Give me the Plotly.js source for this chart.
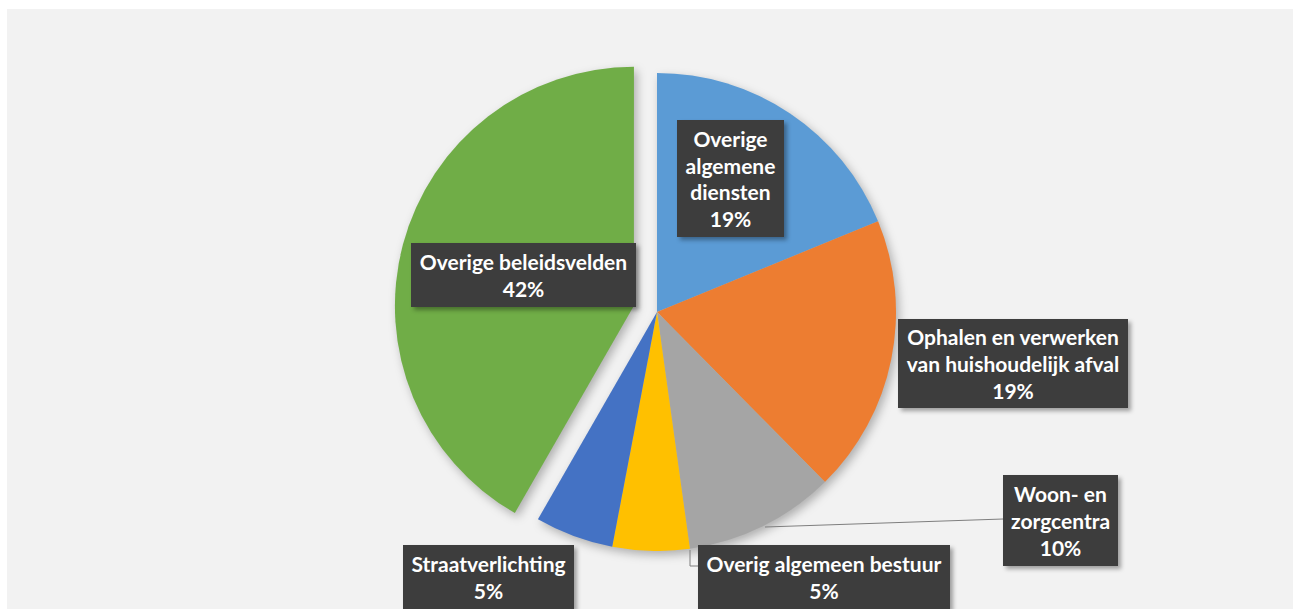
<!DOCTYPE html>
<html>
<head>
<meta charset="utf-8">
<script src="https://cdn.plot.ly/plotly-3.0.1.min.js"></script>
<style>
  html, body { margin: 0; padding: 0; background: #ffffff; width: 1293px; height: 609px; overflow: hidden; }
  #chart { position: absolute; left: 7px; top: 9px; width: 1286px; height: 600px; }
  #chart .pielayer { filter: drop-shadow(3px 4px 5px rgba(0,0,0,0.28)); }
  #chart .annotation rect.bg { filter: drop-shadow(3px 3px 2px rgba(0,0,0,0.35)); }
</style>
</head>
<body>
<div id="chart"></div>
<script>
// ---- data ----
var categories = [
  "Overige algemene diensten",
  "Ophalen en verwerken van huishoudelijk afval",
  "Woon- en zorgcentra",
  "Overig algemeen bestuur",
  "Straatverlichting",
  "Overige beleidsvelden"
];
var shares = [18.8, 18.8, 10.2, 5.2, 5.3, 41.7];
// label text with the line breaks used in the chart
var labelLines = [
  ["Overige", "algemene", "diensten"],
  ["Ophalen en verwerken", "van huishoudelijk afval"],
  ["Woon- en", "zorgcentra"],
  ["Overig algemeen bestuur"],
  ["Straatverlichting"],
  ["Overige beleidsvelden"]
];
var sliceColors = ["#5B9BD5", "#ED7D31", "#A5A5A5", "#FFC000", "#4472C4", "#70AD47"];
var pulls = [0, 0, 0, 0, 0, 0.1];

// ---- layout helpers (page pixel -> paper) ----
var OX = 7, OY = 9, W = 1286, H = 600;
function px(x) { return (x - OX) / W; }
function py(y) { return 1 - (y - OY) / H; }

// label box geometry (page pixels): center x, center y, width, height
var boxes = [
  [730.5, 178.5, 107, 117],
  [1013, 363.5, 230, 89],
  [1060.5, 520.5, 115, 91],
  [824, 577, 252, 64],
  [488.5, 577, 171, 64],
  [523.5, 275, 225, 64]
];

var pad = 4;
var total = shares.reduce(function (a, b) { return a + b; }, 0);
var annotations = categories.map(function (c, i) {
  var pct = Math.round(shares[i] / total * 100) + "%";
  var lines = labelLines[i].concat([pct]).map(function (l) {
    return '<span style="font-size:21px">' + l + '</span>';
  });
  var b = boxes[i];
  return {
    xref: "paper", yref: "paper",
    x: px(b[0]), y: py(b[1]),
    xanchor: "center", yanchor: "middle",
    text: lines.join("<br>"),
    showarrow: false,
    align: "center", valign: "middle",
    width: b[2] - 2 * pad, height: b[3] - 2 * pad,
    borderpad: pad, borderwidth: 0,
    bgcolor: "#3d3d3d",
    font: { family: "Lato, 'Open Sans', sans-serif", size: 20.5, color: "#ffffff", weight: 700 }
  };
});

// leader lines (page pixels)
function pathFrom(pts) {
  return pts.map(function (p, k) { return (k ? "L" : "M") + px(p[0]) + "," + py(p[1]); }).join(" ");
}
var shapes = [
  { type: "path", xref: "paper", yref: "paper", path: pathFrom([[1003, 519], [765, 527]]),
    line: { color: "#7f7f7f", width: 1 } },
  { type: "path", xref: "paper", yref: "paper", path: pathFrom([[690, 550], [690, 566], [698, 566]]),
    line: { color: "#7f7f7f", width: 1 } }
];

// pie placement: center (657,312), radius 239 page px
var cx = 657, cy = 312, R = 239;
var half = R * (1 + Math.max.apply(null, pulls));
var trace = {
  type: "pie",
  labels: categories,
  values: shares,
  sort: false,
  direction: "clockwise",
  rotation: 0,
  pull: pulls,
  marker: { colors: sliceColors, line: { width: 0 } },
  textinfo: "none",
  hoverinfo: "label+percent",
  showlegend: false,
  domain: {
    x: [px(cx - half - 60), px(cx + half + 60)],
    y: [py(cy + half), py(cy - half)]
  }
};

var layout = {
  width: W, height: H,
  margin: { l: 0, r: 0, t: 0, b: 0 },
  paper_bgcolor: "#f2f2f2",
  plot_bgcolor: "#f2f2f2",
  showlegend: false,
  annotations: annotations,
  shapes: shapes
};

Plotly.newPlot("chart", [trace], layout, { displayModeBar: false, staticPlot: true });
</script>
</body>
</html>
